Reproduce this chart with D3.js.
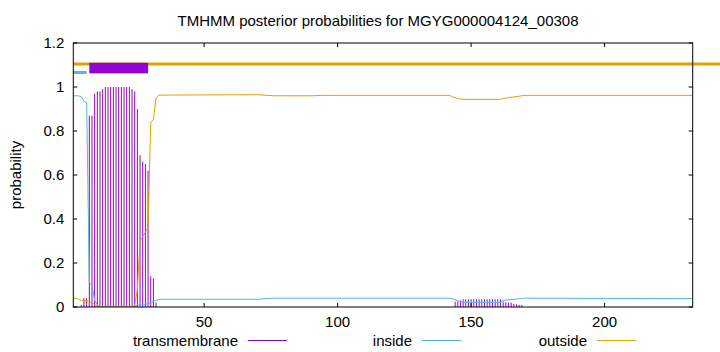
<!DOCTYPE html>
<html>
<head>
<meta charset="utf-8">
<script src="https://cdn.jsdelivr.net/npm/d3@7"></script>
<style>
  body { margin: 0; background: #fff; }
  text { font-family: "Liberation Sans", Arial, sans-serif; font-size: 15px; fill: #000; }
</style>
</head>
<body>
<div id="chart"></div>
<script>

		//sequence length and ticks
		var seqStart = 1,
			seqEnd = 233;
		var xTicks = [50, 100, 150, 200];
		var yTicks = [0, 0.2, 0.4, 0.6, 0.8, 1, 1.2];

		//transmembrane posterior, one impulse per residue (residues not listed are ~0)
		var tmResidue = [4, 5, 6, 7, 8, 9, 10, 11, 12, 13, 14, 15, 16, 17, 18, 19, 20, 21, 22, 23, 24, 25, 26, 27, 28, 29, 30, 31, 32,
			144, 145, 146, 147, 148, 149, 150, 151, 152, 153, 154, 155, 156, 157, 158, 159, 160, 161, 162, 163, 164, 165, 166, 167, 168, 169];
		var tmProb = [0.01, 0.04, 0.04, 0.87, 0.87, 0.97, 0.98, 0.98, 0.99, 1, 1, 1, 1, 1, 1, 1, 1, 1, 1, 0.99, 0.98, 0.90, 0.69, 0.66, 0.65, 0.62, 0.14, 0.13, 0.02,
			0.024, 0.025, 0.03, 0.035, 0.035, 0.035, 0.035, 0.035, 0.035, 0.035, 0.035, 0.035, 0.035, 0.035, 0.035, 0.035, 0.035, 0.035, 0.025, 0.022, 0.02, 0.02, 0.015, 0.012, 0.01, 0.01];

		//inside posterior (line vertices)
		var insideResidue = [1, 2, 3, 4, 5, 6, 7, 8, 9, 10, 11, 24, 25, 26, 27, 28, 29, 30, 31, 32, 33, 70, 76, 142, 143, 145, 147, 161, 162, 170, 233];
		var insideProb = [0.96, 0.96, 0.96, 0.955, 0.935, 0.93, 0.11, 0.10, 0.03, 0.01, 0, 0, 0.01, 0.01, 0.01, 0.012, 0.015, 0.02, 0.025, 0.03, 0.035, 0.035, 0.04, 0.04, 0.038, 0.028, 0.021, 0.021, 0.03, 0.04, 0.038];

		//outside posterior (line vertices)
		var outsideResidue = [1, 2, 3, 4, 5, 6, 7, 8, 9, 10, 11, 23, 24, 25, 26, 27, 28, 29, 30, 31, 32, 33, 70, 76, 90, 95, 142, 143, 145, 147, 161, 163, 168, 170, 233];
		var outsideProb = [0.04, 0.04, 0.035, 0.03, 0.03, 0.03, 0.02, 0.02, 0.01, 0.005, 0, 0, 0.01, 0.08, 0.30, 0.32, 0.34, 0.36, 0.84, 0.85, 0.95, 0.963, 0.965, 0.96, 0.96, 0.962, 0.962, 0.955, 0.948, 0.944, 0.944, 0.95, 0.958, 0.962, 0.962];

		//predicted topology segments shown above the curves
		var tmSegments = [[7, 29]];
		var insideSegments = [[1, 6]];
		var outsideSegments = [[1, 244]];

		var legendNames = ['transmembrane', 'inside', 'outside'];
		var colors = { transmembrane: '#9400d3', inside: '#56b4e9', outside: '#e69f00' };

		//the size of the graph
		var width = 720,
			height = 352;
		var plotLeft = 73.3,
			plotRight = 692.7,
			plotTop = 43,
			plotBottom = 307;

		var x = d3.scaleLinear()
					.domain([seqStart, seqEnd])
					.range([plotLeft, plotRight]);

		var y = d3.scaleLinear()
					.domain([0, 1.2])
					.range([plotBottom, plotTop]);

		var svg = d3.select('#chart')
			.append('svg')
			  .attr('width', width)
			  .attr('height', height);

		svg.append('clipPath')
			.attr('id', 'plot-clip')
			.append('rect')
			.attr('x', plotLeft)
			.attr('y', plotTop)
			.attr('width', plotRight - plotLeft)
			.attr('height', plotBottom - plotTop);

		var plot = svg.append('g')
					.attr('clip-path', 'url(#plot-clip)');

		//impulses
		var tmData = tmResidue.map(function(r, i) { return { r: r, p: tmProb[i] }; });

		plot.selectAll('.tm-impulse')
			.data(tmData)
			.enter()
			.append('line')
			.attr('class', 'tm-impulse')
			.attr('x1', function(d) { return x(d.r); })
			.attr('x2', function(d) { return x(d.r); })
			.attr('y1', y(0))
			.attr('y2', function(d) { return y(d.p); })
			.style('stroke', colors.transmembrane)
			.style('stroke-width', 1);

		var line = d3.line()
					.x(function(d) { return x(d[0]); })
					.y(function(d) { return y(d[1]); });

		plot.append('path')
			.datum(d3.zip(insideResidue, insideProb))
			.attr('d', line)
			.style('fill', 'none')
			.style('stroke', colors.inside)
			.style('stroke-width', 1);

		plot.append('path')
			.datum(d3.zip(outsideResidue, outsideProb))
			.attr('d', line)
			.style('fill', 'none')
			.style('stroke', colors.outside)
			.style('stroke-width', 1);

		//topology bars
		svg.selectAll('.outside-bar')
			.data(outsideSegments)
			.enter()
			.append('line')
			.attr('class', 'outside-bar')
			.attr('x1', function(d) { return x(d[0]); })
			.attr('x2', function(d) { return x(d[1]); })
			.attr('y1', y(1.105))
			.attr('y2', y(1.105))
			.style('stroke', colors.outside)
			.style('stroke-width', 3);

		svg.selectAll('.inside-bar')
			.data(insideSegments)
			.enter()
			.append('line')
			.attr('class', 'inside-bar')
			.attr('x1', function(d) { return x(d[0]); })
			.attr('x2', function(d) { return x(d[1]); })
			.attr('y1', y(1.066))
			.attr('y2', y(1.066))
			.style('stroke', colors.inside)
			.style('stroke-width', 3);

		svg.selectAll('.tm-bar')
			.data(tmSegments)
			.enter()
			.append('rect')
			.attr('class', 'tm-bar')
			.attr('x', function(d) { return x(d[0]); })
			.attr('width', function(d) { return x(d[1]) - x(d[0]); })
			.attr('y', y(1.11))
			.attr('height', y(1.062) - y(1.11))
			.style('fill', colors.transmembrane);

		//ticks, mirrored on all four sides like gnuplot
		var tickLen = 4;
		var ticks = svg.append('g')
					.style('stroke', '#000')
					.style('stroke-width', 1);

		yTicks.forEach(function(t) {
			ticks.append('line')
				.attr('x1', plotLeft).attr('x2', plotLeft + tickLen)
				.attr('y1', y(t)).attr('y2', y(t));
			ticks.append('line')
				.attr('x1', plotRight - tickLen).attr('x2', plotRight)
				.attr('y1', y(t)).attr('y2', y(t));
		});

		xTicks.forEach(function(t) {
			ticks.append('line')
				.attr('x1', x(t)).attr('x2', x(t))
				.attr('y1', plotBottom).attr('y2', plotBottom - tickLen);
			ticks.append('line')
				.attr('x1', x(t)).attr('x2', x(t))
				.attr('y1', plotTop).attr('y2', plotTop + tickLen);
		});

		svg.append('rect')
			.attr('x', plotLeft)
			.attr('y', plotTop)
			.attr('width', plotRight - plotLeft)
			.attr('height', plotBottom - plotTop)
			.style('fill', 'none')
			.style('stroke', '#000')
			.style('stroke-width', 1);

		svg.selectAll('.y-label')
			.data(yTicks)
			.enter()
			.append('text')
			.attr('class', 'y-label')
			.attr('x', plotLeft - 9)
			.attr('y', function(d) { return y(d); })
			.attr('dy', '0.36em')
			.attr('text-anchor', 'end')
			.text(function(d) { return String(+d.toFixed(1)); });

		svg.selectAll('.x-label')
			.data(xTicks)
			.enter()
			.append('text')
			.attr('class', 'x-label')
			.attr('x', function(d) { return x(d); })
			.attr('y', 327)
			.attr('text-anchor', 'middle')
			.text(function(d) { return d; });

		svg.append('text')
			.attr('x', 378)
			.attr('y', 26)
			.attr('text-anchor', 'middle')
			.text('TMHMM posterior probabilities for MGYG000004124_00308');

		svg.append('text')
			.attr('transform', 'translate(21,' + ((plotTop + plotBottom) / 2) + ') rotate(-90)')
			.attr('text-anchor', 'middle')
			.text('probability');

		//legend
		var legendTextRight = [238, 412, 587];

		var legend = svg.selectAll('.legend')
					.data(legendNames)
					.enter()
					.append('g')
					.attr('class', 'legend');

		legend.append('text')
			.attr('x', function(d, i) { return legendTextRight[i]; })
			.attr('y', 346)
			.attr('text-anchor', 'end')
			.text(function(d) { return d; });

		legend.append('line')
			.attr('x1', function(d, i) { return legendTextRight[i] + 10; })
			.attr('x2', function(d, i) { return legendTextRight[i] + 49; })
			.attr('y1', 340.5)
			.attr('y2', 340.5)
			.style('stroke', function(d) { return colors[d]; })
			.style('stroke-width', 1);

</script>
</body>
</html>
